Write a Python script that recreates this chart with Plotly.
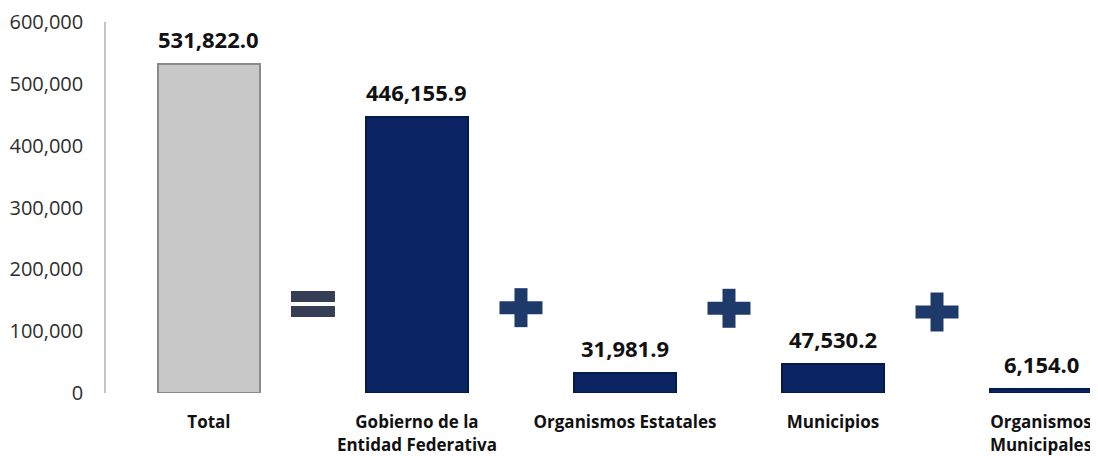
import plotly.graph_objects as go

categories = ["Total", "Gobierno de la<br>Entidad Federativa", "Organismos Estatales",
              "Municipios", "Organismos<br>Municipales"]
values = [531822.0, 446155.9, 31981.9, 47530.2, 6154.0]
bar_colors = ["#c8c8c8", "#0b2464", "#0b2464", "#0b2464", "#0b2464"]
line_colors = ["#8a8a8a", "#061a4a", "#061a4a", "#061a4a", "#061a4a"]
y_ticks = [0, 100000, 200000, 300000, 400000, 500000, 600000]
y_tick_labels = ["0", "100,000", "200,000", "300,000", "400,000", "500,000", "600,000"]
subtitle = "(Millones de pesos)"

FONT = "Open Sans"

# page body has an 8px margin, so the figure is sized to end at the window edge
W, H = 1090, 448
ML, MT, MB = 98, 14, 63

fig = go.Figure()
fig.add_trace(go.Bar(
    x=list(range(len(categories))), y=values,
    width=0.49,
    marker=dict(color=bar_colors, line=dict(color=line_colors, width=2)),
    hoverinfo="skip",
))

# value labels
for i, v in enumerate(values):
    fig.add_annotation(x=i, y=v, xref="x", yref="y", text=f"<b>{v:,.1f}</b>",
                       showarrow=False, yanchor="bottom", yshift=8,
                       font=dict(family=FONT, size=22, color="#111111"))

# operator symbols between categories
eq_color = "#343f55"
plus_color = "#1e3a6a"
sym_y = [144000, 138000, 137000, 131000]
# "=" between 0 and 1
fig.add_shape(type="rect", xref="x", yref="y", xsizemode="pixel", ysizemode="pixel",
              xanchor=0.5, yanchor=sym_y[0], x0=-22, x1=22, y0=2, y1=13,
              fillcolor=eq_color, line=dict(width=0))
fig.add_shape(type="rect", xref="x", yref="y", xsizemode="pixel", ysizemode="pixel",
              xanchor=0.5, yanchor=sym_y[0], x0=-22, x1=22, y0=-13, y1=-2,
              fillcolor=eq_color, line=dict(width=0))
# "+" signs
for k, xa in enumerate([1.5, 2.5, 3.5]):
    ya = sym_y[k + 1]
    fig.add_shape(type="rect", xref="x", yref="y", xsizemode="pixel", ysizemode="pixel",
                  xanchor=xa, yanchor=ya, x0=-21.5, x1=21.5, y0=-6.5, y1=6.5,
                  fillcolor=plus_color, line=dict(width=0))
    fig.add_shape(type="rect", xref="x", yref="y", xsizemode="pixel", ysizemode="pixel",
                  xanchor=xa, yanchor=ya, x0=-6.5, x1=6.5, y0=-19.5, y1=19.5,
                  fillcolor=plus_color, line=dict(width=0))

# cut-off subtitle at the very top
plot_h = H - MT - MB
fig.add_annotation(x=(592 - 106) / (1098 - 106), xref="x domain",
                   y=1 + (MT + 4) / plot_h, yref="paper", text=f"<b>{subtitle}</b>",
                   showarrow=False, yanchor="bottom", xanchor="center",
                   font=dict(family=FONT, size=18, color="#111111"))

fig.update_layout(
    width=W, height=H,
    margin=dict(l=ML, r=0, t=MT, b=MB, pad=0),
    paper_bgcolor="white", plot_bgcolor="white",
    showlegend=False,
    bargap=0,
    xaxis=dict(
        range=[-0.495, 4.274], automargin=False,
        tickmode="array", tickvals=list(range(len(categories))),
        ticktext=[f"<b>{c}</b>" for c in categories],
        tickfont=dict(family=FONT, size=17, color="#111111"),
        showgrid=False, zeroline=False, showline=False,
        ticks="outside", ticklen=14, tickcolor="rgba(0,0,0,0)",
    ),
    yaxis=dict(
        range=[0, 600000], automargin=False,
        tickmode="array", tickvals=y_ticks, ticktext=y_tick_labels,
        tickfont=dict(family=FONT, size=20, color="#2e2e2e"),
        showgrid=False, zeroline=False,
        showline=True, linecolor="#c4c4c4", linewidth=1.5,
        ticks="outside", ticklen=17, tickcolor="rgba(0,0,0,0)",
    ),
)

fig.write_html("out.html", config={"displayModeBar": False})
